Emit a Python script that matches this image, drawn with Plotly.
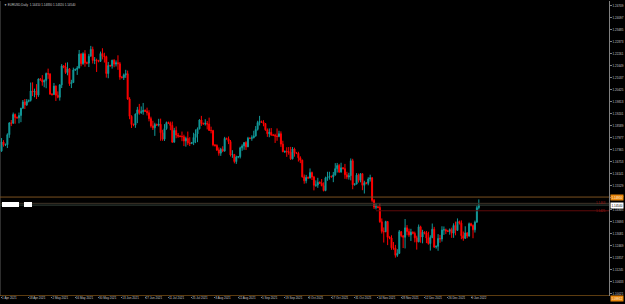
import pandas as pd
import plotly.graph_objects as go

# ---- bar dates (daily bars, broker with Sunday bars, no Saturdays) ----
dates = [d for d in pd.date_range("2021-04-01", "2022-01-13") if d.weekday() != 5]

# ---- EURUSD daily OHLC, one line per week (Sun..Fri) ----
open_ = [
    1.1729, 1.1776,
    1.1761, 1.1762, 1.1813, 1.1873, 1.1872, 1.1916,
    1.1901, 1.1899, 1.1911, 1.1948, 1.1980, 1.1965,
    1.1983, 1.1988, 1.2036, 1.2032, 1.2035, 1.2015,
    1.2097, 1.2093, 1.2082, 1.2090, 1.2125, 1.2122,
    1.2020, 1.2018, 1.2061, 1.2014, 1.2004, 1.2067,
    1.2164, 1.2158, 1.2130, 1.2149, 1.2073, 1.2079,
    1.2143, 1.2146, 1.2153, 1.2224, 1.2175, 1.2226,
    1.2180, 1.2178, 1.2213, 1.2248, 1.2192, 1.2193,
    1.2190, 1.2187, 1.2227, 1.2213, 1.2211, 1.2125,
    1.2166, 1.2164, 1.2193, 1.2173, 1.2180, 1.2175,
    1.2107, 1.2104, 1.2118, 1.2124, 1.1995, 1.1907,
    1.1865, 1.1862, 1.1918, 1.1940, 1.1925, 1.1930,
    1.1937, 1.1933, 1.1925, 1.1895, 1.1858, 1.1848,
    1.1865, 1.1862, 1.1866, 1.1823, 1.1790, 1.1844,
    1.1875, 1.1872, 1.1860, 1.1775, 1.1835, 1.1811,
    1.1806, 1.1804, 1.1803, 1.1781, 1.1794, 1.1771,
    1.1768, 1.1773, 1.1799, 1.1817, 1.1843, 1.1888,
    1.1870, 1.1868, 1.1871, 1.1867, 1.1835, 1.1834,
    1.1761, 1.1758, 1.1735, 1.1719, 1.1739, 1.1730,
    1.1794, 1.1792, 1.1778, 1.1710, 1.1712, 1.1676,
    1.1699, 1.1701, 1.1746, 1.1756, 1.1773, 1.1751,
    1.1795, 1.1794, 1.1798, 1.1807, 1.1840, 1.1875,
    1.1880, 1.1877, 1.1870, 1.1838, 1.1818, 1.1825,
    1.1812, 1.1810, 1.1806, 1.1804, 1.1818, 1.1765,
    1.1726, 1.1728, 1.1726, 1.1724, 1.1690, 1.1740,
    1.1720, 1.1718, 1.1695, 1.1683, 1.1598, 1.1578,
    1.1595, 1.1592, 1.1620, 1.1597, 1.1555, 1.1556,
    1.1570, 1.1566, 1.1553, 1.1528, 1.1593, 1.1597,
    1.1600, 1.1598, 1.1608, 1.1640, 1.1656, 1.1623,
    1.1644, 1.1640, 1.1609, 1.1597, 1.1604, 1.1680,
    1.1558, 1.1561, 1.1607, 1.1580, 1.1614, 1.1555,
    1.1568, 1.1565, 1.1587, 1.1593, 1.1478, 1.1444,
    1.1445, 1.1442, 1.1369, 1.1320, 1.1318, 1.1370,
    1.1290, 1.1286, 1.1236, 1.1234, 1.1198, 1.1208,
    1.1318, 1.1298, 1.1290, 1.1338, 1.1319, 1.1302,
    1.1316, 1.1310, 1.1287, 1.1267, 1.1343, 1.1291,
    1.1316, 1.1312, 1.1286, 1.1258, 1.1289, 1.1331,
    1.1240, 1.1244, 1.1284, 1.1281, 1.1327, 1.1328,
    1.1322, 1.1320, 1.1329, 1.1311, 1.1350, 1.1325,
    1.1370, 1.1362, 1.1298, 1.1285, 1.1312, 1.1296,
    1.1359, 1.1350, 1.1328, 1.1367, 1.1441,
]
high = [
    1.1796, 1.1785,
    1.1768, 1.1820, 1.1877, 1.1888, 1.1926, 1.1921,
    1.1906, 1.1926, 1.1950, 1.1990, 1.1995, 1.1995,
    1.1992, 1.2079, 1.2080, 1.2048, 1.2071, 1.2100,
    1.2102, 1.2117, 1.2095, 1.2130, 1.2150, 1.2127,
    1.2025, 1.2077, 1.2064, 1.2034, 1.2071, 1.2173,
    1.2168, 1.2180, 1.2182, 1.2153, 1.2093, 1.2155,
    1.2150, 1.2163, 1.2245, 1.2229, 1.2233, 1.2244,
    1.2186, 1.2225, 1.2266, 1.2262, 1.2209, 1.2201,
    1.2195, 1.2237, 1.2254, 1.2231, 1.2216, 1.2184,
    1.2170, 1.2195, 1.2198, 1.2192, 1.2218, 1.2184,
    1.2112, 1.2125, 1.2144, 1.2140, 1.2004, 1.1912,
    1.1870, 1.1921, 1.1955, 1.1970, 1.1957, 1.1975,
    1.1942, 1.1951, 1.1938, 1.1905, 1.1884, 1.1874,
    1.1870, 1.1894, 1.1895, 1.1838, 1.1867, 1.1880,
    1.1880, 1.1880, 1.1880, 1.1848, 1.1855, 1.1822,
    1.1810, 1.1829, 1.1813, 1.1803, 1.1829, 1.1800,
    1.1776, 1.1823, 1.1840, 1.1850, 1.1892, 1.1909,
    1.1875, 1.1892, 1.1883, 1.1900, 1.1854, 1.1838,
    1.1765, 1.1764, 1.1748, 1.1746, 1.1754, 1.1802,
    1.1798, 1.1804, 1.1786, 1.1734, 1.1715, 1.1706,
    1.1704, 1.1752, 1.1764, 1.1774, 1.1780, 1.1802,
    1.1800, 1.1810, 1.1833, 1.1857, 1.1884, 1.1909,
    1.1885, 1.1887, 1.1872, 1.1845, 1.1845, 1.1847,
    1.1817, 1.1818, 1.1845, 1.1833, 1.1830, 1.1782,
    1.1732, 1.1749, 1.1750, 1.1751, 1.1750, 1.1747,
    1.1725, 1.1726, 1.1703, 1.1686, 1.1610, 1.1608,
    1.1600, 1.1641, 1.1625, 1.1603, 1.1580, 1.1593,
    1.1575, 1.1587, 1.1570, 1.1599, 1.1624, 1.1624,
    1.1605, 1.1623, 1.1668, 1.1669, 1.1664, 1.1670,
    1.1648, 1.1664, 1.1624, 1.1619, 1.1692, 1.1690,
    1.1565, 1.1617, 1.1615, 1.1616, 1.1616, 1.1578,
    1.1572, 1.1596, 1.1609, 1.1597, 1.1485, 1.1464,
    1.1450, 1.1464, 1.1386, 1.1340, 1.1374, 1.1373,
    1.1295, 1.1300, 1.1266, 1.1251, 1.1229, 1.1327,
    1.1322, 1.1299, 1.1383, 1.1352, 1.1334, 1.1333,
    1.1320, 1.1319, 1.1298, 1.1355, 1.1349, 1.1328,
    1.1320, 1.1322, 1.1318, 1.1300, 1.1360, 1.1343,
    1.1248, 1.1306, 1.1302, 1.1346, 1.1345, 1.1334,
    1.1328, 1.1335, 1.1339, 1.1361, 1.1370, 1.1386,
    1.1375, 1.1376, 1.1319, 1.1346, 1.1316, 1.1365,
    1.1364, 1.1356, 1.1375, 1.1451, 1.1483,
]
low = [
    1.1726, 1.1752,
    1.1755, 1.1745, 1.1797, 1.1857, 1.1868, 1.1869,
    1.1895, 1.1871, 1.1877, 1.1946, 1.1944, 1.1960,
    1.1978, 1.1982, 1.2010, 1.2004, 1.1995, 1.2006,
    1.2088, 1.2063, 1.2055, 1.2050, 1.2098, 1.2016,
    1.2012, 1.2015, 1.1985, 1.1999, 1.1987, 1.2051,
    1.2152, 1.2123, 1.2116, 1.2062, 1.2051, 1.2077,
    1.2138, 1.2118, 1.2151, 1.2162, 1.2170, 1.2160,
    1.2172, 1.2158, 1.2212, 1.2176, 1.2173, 1.2133,
    1.2182, 1.2184, 1.2197, 1.2181, 1.2104, 1.2101,
    1.2160, 1.2150, 1.2157, 1.2161, 1.2144, 1.2093,
    1.2100, 1.2092, 1.2103, 1.1991, 1.1892, 1.1847,
    1.1856, 1.1848, 1.1872, 1.1915, 1.1919, 1.1915,
    1.1929, 1.1911, 1.1881, 1.1849, 1.1837, 1.1807,
    1.1858, 1.1855, 1.1782, 1.1782, 1.1781, 1.1838,
    1.1868, 1.1836, 1.1772, 1.1773, 1.1795, 1.1797,
    1.1800, 1.1780, 1.1755, 1.1752, 1.1760, 1.1755,
    1.1765, 1.1760, 1.1770, 1.1775, 1.1840, 1.1858,
    1.1864, 1.1860, 1.1840, 1.1832, 1.1820, 1.1754,
    1.1752, 1.1730, 1.1706, 1.1705, 1.1724, 1.1726,
    1.1788, 1.1765, 1.1702, 1.1695, 1.1667, 1.1664,
    1.1693, 1.1692, 1.1731, 1.1736, 1.1735, 1.1750,
    1.1790, 1.1782, 1.1794, 1.1803, 1.1834, 1.1860,
    1.1873, 1.1856, 1.1833, 1.1802, 1.1800, 1.1807,
    1.1806, 1.1771, 1.1782, 1.1800, 1.1751, 1.1724,
    1.1720, 1.1700, 1.1711, 1.1684, 1.1687, 1.1701,
    1.1714, 1.1676, 1.1668, 1.1594, 1.1563, 1.1565,
    1.1588, 1.1590, 1.1582, 1.1529, 1.1547, 1.1542,
    1.1562, 1.1550, 1.1524, 1.1525, 1.1578, 1.1584,
    1.1594, 1.1571, 1.1604, 1.1620, 1.1618, 1.1619,
    1.1636, 1.1588, 1.1586, 1.1584, 1.1580, 1.1535,
    1.1553, 1.1560, 1.1569, 1.1570, 1.1530, 1.1513,
    1.1560, 1.1555, 1.1574, 1.1468, 1.1434, 1.1432,
    1.1438, 1.1364, 1.1309, 1.1263, 1.1316, 1.1250,
    1.1280, 1.1226, 1.1226, 1.1186, 1.1190, 1.1205,
    1.1290, 1.1235, 1.1233, 1.1300, 1.1292, 1.1271,
    1.1305, 1.1264, 1.1227, 1.1264, 1.1262, 1.1259,
    1.1305, 1.1260, 1.1252, 1.1222, 1.1285, 1.1235,
    1.1232, 1.1221, 1.1262, 1.1268, 1.1302, 1.1306,
    1.1316, 1.1303, 1.1287, 1.1287, 1.1300, 1.1322,
    1.1355, 1.1280, 1.1272, 1.1281, 1.1285, 1.1293,
    1.1345, 1.1285, 1.1314, 1.1364, 1.1432,
]
close = [
    1.1776, 1.1761,
    1.1762, 1.1813, 1.1873, 1.1872, 1.1916, 1.1901,
    1.1899, 1.1911, 1.1948, 1.1980, 1.1965, 1.1983,
    1.1988, 1.2036, 1.2032, 1.2035, 1.2015, 1.2097,
    1.2093, 1.2082, 1.2090, 1.2125, 1.2122, 1.2020,
    1.2018, 1.2061, 1.2014, 1.2004, 1.2067, 1.2164,
    1.2158, 1.2130, 1.2149, 1.2073, 1.2079, 1.2143,
    1.2146, 1.2153, 1.2224, 1.2175, 1.2226, 1.2180,
    1.2178, 1.2213, 1.2248, 1.2192, 1.2193, 1.2190,
    1.2187, 1.2227, 1.2213, 1.2211, 1.2125, 1.2166,
    1.2164, 1.2193, 1.2173, 1.2180, 1.2175, 1.2107,
    1.2104, 1.2118, 1.2124, 1.1995, 1.1907, 1.1865,
    1.1862, 1.1918, 1.1940, 1.1925, 1.1930, 1.1937,
    1.1933, 1.1925, 1.1895, 1.1858, 1.1848, 1.1865,
    1.1862, 1.1866, 1.1823, 1.1790, 1.1844, 1.1875,
    1.1872, 1.1860, 1.1775, 1.1835, 1.1811, 1.1806,
    1.1804, 1.1803, 1.1781, 1.1794, 1.1771, 1.1768,
    1.1773, 1.1799, 1.1817, 1.1843, 1.1888, 1.1870,
    1.1868, 1.1871, 1.1867, 1.1835, 1.1834, 1.1761,
    1.1758, 1.1735, 1.1719, 1.1739, 1.1730, 1.1794,
    1.1792, 1.1778, 1.1710, 1.1712, 1.1676, 1.1699,
    1.1701, 1.1746, 1.1756, 1.1773, 1.1751, 1.1795,
    1.1794, 1.1798, 1.1807, 1.1840, 1.1875, 1.1880,
    1.1877, 1.1870, 1.1838, 1.1818, 1.1825, 1.1812,
    1.1810, 1.1806, 1.1804, 1.1818, 1.1765, 1.1726,
    1.1728, 1.1726, 1.1724, 1.1690, 1.1740, 1.1720,
    1.1718, 1.1695, 1.1683, 1.1598, 1.1578, 1.1595,
    1.1592, 1.1620, 1.1597, 1.1555, 1.1556, 1.1570,
    1.1566, 1.1553, 1.1528, 1.1593, 1.1597, 1.1600,
    1.1598, 1.1608, 1.1640, 1.1656, 1.1623, 1.1644,
    1.1640, 1.1609, 1.1597, 1.1604, 1.1680, 1.1558,
    1.1561, 1.1607, 1.1580, 1.1614, 1.1555, 1.1568,
    1.1565, 1.1587, 1.1593, 1.1478, 1.1444, 1.1445,
    1.1442, 1.1369, 1.1320, 1.1318, 1.1370, 1.1290,
    1.1286, 1.1236, 1.1234, 1.1198, 1.1208, 1.1318,
    1.1298, 1.1290, 1.1338, 1.1319, 1.1302, 1.1316,
    1.1310, 1.1287, 1.1267, 1.1343, 1.1291, 1.1316,
    1.1312, 1.1286, 1.1258, 1.1289, 1.1331, 1.1240,
    1.1244, 1.1284, 1.1281, 1.1327, 1.1328, 1.1322,
    1.1320, 1.1329, 1.1311, 1.1350, 1.1325, 1.1370,
    1.1362, 1.1298, 1.1285, 1.1312, 1.1296, 1.1359,
    1.1350, 1.1328, 1.1367, 1.1441, 1.1454,
]

# ---- axis labels ----
tick_dates = ["2021-04-01", "2021-04-18", "2021-05-02", "2021-05-16", "2021-05-30",
              "2021-06-13", "2021-06-27", "2021-07-11", "2021-07-25", "2021-08-08",
              "2021-08-22", "2021-09-05", "2021-09-19", "2021-10-03", "2021-10-17",
              "2021-10-31", "2021-11-14", "2021-11-28", "2021-12-12", "2021-12-26",
              "2022-01-09"]
price_ticks = [1.24709, 1.24097, 1.23485, 1.22873, 1.22261, 1.21649, 1.21037, 1.20425,
               1.19813, 1.19201, 1.18589, 1.17977, 1.17365, 1.16753, 1.16141, 1.15529,
               1.14917, 1.14305, 1.13693, 1.13081, 1.12469, 1.11857, 1.11245, 1.10633,
               1.10021]

# ---- horizontal levels ----
orange_level = 1.14950
bottom_level = 1.09912
upper_grey_level = 1.14630
red_level = 1.14250
red_line_start = "2021-11-12"

y_range = [1.09904, 1.24949]
x_range = [-0.8, 313.1]

n = len(close)
idx = list(range(n))
date_index = {d.strftime("%Y-%m-%d"): i for i, d in enumerate(dates[:n])}
tickvals = [date_index[d] for d in tick_dates]
ticktext = [f"{pd.Timestamp(d).day} {pd.Timestamp(d).strftime('%b %Y')}" for d in tick_dates]

BULL = "#129a9a"
BEAR = "#ff0000"
FONT = "Liberation Sans"
TXT = "#c8c8c8"

fig = go.Figure(go.Candlestick(
    x=idx, open=open_, high=high, low=low, close=close,
    increasing=dict(line=dict(color=BULL, width=1), fillcolor=BULL),
    decreasing=dict(line=dict(color=BEAR, width=1), fillcolor=BEAR),
    whiskerwidth=0, hoverinfo="skip",
))

last = n - 1
shapes = [
    # left border
    dict(type="line", xref="paper", yref="paper", x0=0, x1=0, y0=0, y1=1,
         line=dict(color="#5a5a5a", width=1)),
    dict(type="line", xref="paper", yref="y", x0=0, x1=1, y0=orange_level, y1=orange_level,
         line=dict(color="#7a5020", width=1)),
    dict(type="line", xref="paper", yref="y", x0=0, x1=1, y0=bottom_level, y1=bottom_level,
         line=dict(color="#8a5a18", width=1)),
    dict(type="line", xref="paper", yref="y", x0=0, x1=1, y0=upper_grey_level, y1=upper_grey_level,
         line=dict(color="#3e3428", width=1)),
    dict(type="line", xref="paper", yref="y", x0=0, x1=1, y0=close[last], y1=close[last],
         line=dict(color="#34443c", width=1)),
    dict(type="line", xref="x", yref="y", x0=date_index[red_line_start], x1=x_range[1],
         y0=red_level, y1=red_level, line=dict(color="#5e0a0a", width=1)),
    # object labels at left
    dict(type="rect", xref="paper", yref="y", x0=2 / 609, x1=19 / 609, y0=1.14443, y1=1.14698,
         fillcolor="white", line=dict(width=0)),
    dict(type="rect", xref="paper", yref="y", x0=24 / 609, x1=32 / 609, y0=1.14443, y1=1.14698,
         fillcolor="white", line=dict(width=0)),
]

def right_label(price, bg, fg, yshift=0):
    return dict(xref="paper", x=1, xanchor="left", xshift=1, yref="y", y=price,
                yanchor="middle", yshift=yshift, text=f"{price:.5f}", showarrow=False,
                bgcolor=bg, borderpad=0.5, font=dict(family=FONT, size=3, color=fg))

annotations = [
    dict(xref="paper", yref="paper", x=0, y=1, xanchor="left", yanchor="top",
         xshift=2, yshift=0, showarrow=False,
         text=f"▼ EURUSD,Daily  {open_[last]:.5f} {high[last]:.5f} {low[last]:.5f} {close[last]:.5f}",
         font=dict(family=FONT, size=3, color=TXT)),
    right_label(orange_level, "#e8860c", "#fff4e0"),
    right_label(close[last], "#ffffff", "#000000"),
    right_label(bottom_level, "#e8860c", "#fff4e0", yshift=-3),
    dict(xref="paper", x=1, xanchor="right", xshift=-1, yref="y", y=upper_grey_level,
         text=f"{upper_grey_level:.4f}", showarrow=False,
         font=dict(family=FONT, size=3, color="#a01818")),
    dict(xref="paper", x=1, xanchor="right", xshift=-1, yref="y", y=red_level,
         text=f"{red_level:.4f}", showarrow=False,
         font=dict(family=FONT, size=3, color="#a01818")),
]

fig.update_layout(
    template="none",
    width=625, height=304,
    margin=dict(l=0, r=16, t=1, b=8, autoexpand=False),
    paper_bgcolor="#000000", plot_bgcolor="#000000",
    showlegend=False,
    font=dict(family=FONT, size=3, color=TXT),
    xaxis=dict(range=x_range, showgrid=False, zeroline=False, showline=False,
               rangeslider=dict(visible=False), automargin=False,
               tickmode="array", tickvals=tickvals, ticktext=ticktext, tickangle=0,
               ticks="outside", ticklen=1, tickcolor="#808080", tickwidth=1,
               ticklabelposition="outside right", ticklabelstandoff=-2,
               tickfont=dict(family=FONT, size=3, color=TXT)),
    yaxis=dict(range=y_range, side="right", showgrid=False, zeroline=False,
               showline=True, linecolor="#808080", linewidth=1, automargin=False,
               tickmode="array", tickvals=price_ticks,
               ticktext=[f"{v:.5f}" for v in price_ticks],
               ticks="outside", ticklen=2, tickcolor="#808080",
               tickfont=dict(family=FONT, size=3, color=TXT)),
    shapes=shapes,
    annotations=annotations,
)

fig.write_html("out.html")
